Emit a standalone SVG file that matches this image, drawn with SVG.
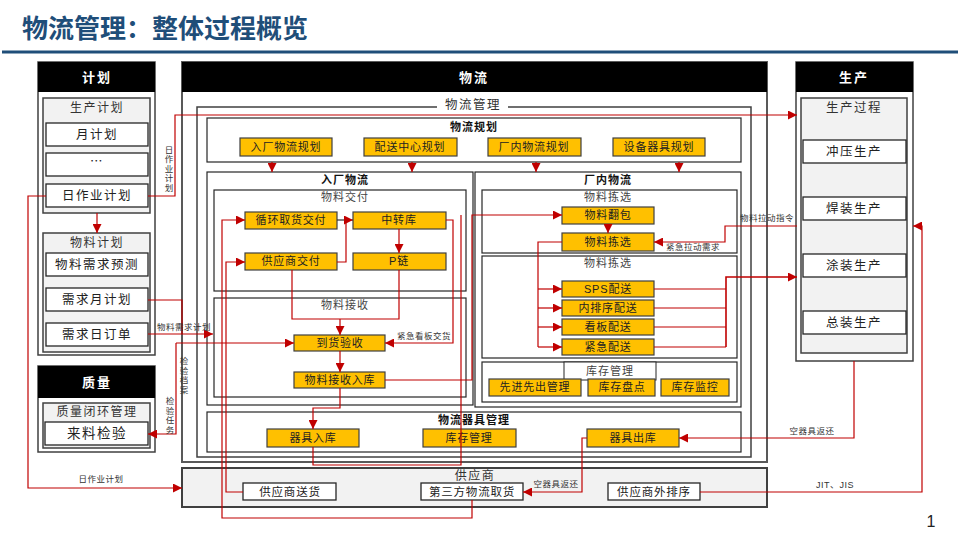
<svg xmlns="http://www.w3.org/2000/svg" width="960" height="540" viewBox="0 0 960 540">
<defs>
<marker id="ar" viewBox="0 0 10 10" refX="10" refY="5" markerWidth="9" markerHeight="9" markerUnits="userSpaceOnUse" orient="auto"><path d="M0,0 L10,5 L0,10 z" fill="#C00000"/></marker>
<style>
text{font-family:"Noto Sans CJK SC","Noto Sans",sans-serif;text-anchor:middle}
.panel{fill:#fff;stroke:#404040;stroke-width:1.5}
.frame{fill:#fff;stroke:#595959;stroke-width:2}
.hdr{fill:#000}
.ht{fill:#fff;font-size:13px;font-weight:bold;letter-spacing:2px}
.grp{fill:#f2f2f2;stroke:#404040;stroke-width:1.5}
.wb{fill:#fff;stroke:#262626;stroke-width:1.3}
.gold{fill:#FFC000;stroke:#404040;stroke-width:1.2}
.sec{fill:none;stroke:#262626;stroke-width:1.2}
.gt{font-size:12px;fill:#333;letter-spacing:1.5px}
.lt{font-size:12.5px;fill:#222;letter-spacing:1.5px}
.bt{font-size:11px;fill:#222;letter-spacing:0.8px}
.st{font-size:11px;fill:#444;letter-spacing:1px}
.tb{font-size:11px;font-weight:bold;fill:#111;letter-spacing:1px}
.lab{font-size:8.5px;fill:#333;letter-spacing:0.5px}
.vlab{font-size:8.5px;fill:#333;letter-spacing:1px;writing-mode:vertical-rl}
.red{fill:none;stroke:#C00000;stroke-width:1.2}
.ra{fill:none;stroke:#C00000;stroke-width:1.2;marker-end:url(#ar)}
</style>
</defs>
<rect width="960" height="540" fill="#fff"/>
<g id="title">
<text x="22" y="38" style="text-anchor:start;font-size:26px;font-weight:bold;fill:#1F4E79">物流管理：整体过程概览</text>
<line x1="2" y1="52" x2="958" y2="52" stroke="#1F4E79" stroke-width="3"/>
</g>

<g id="plan">
<rect class="panel" x="38" y="62" width="117" height="293"/>
<rect class="hdr" x="38" y="62" width="117" height="30"/>
<text class="ht" x="97" y="82">计划</text>
<g id="prodplan">
<rect class="grp" x="43" y="98" width="107" height="115"/>
<text class="gt" x="97" y="112">生产计划</text>
</g>
<g id="month"><rect class="wb" x="46" y="123" width="102" height="23"/><text class="lt" x="97" y="139">月计划</text></g>
<g id="dots"><rect class="wb" x="46" y="153" width="102" height="23"/><text class="lt" x="97" y="166">…</text></g>
<g id="daily"><rect class="wb" x="46" y="184" width="102" height="23"/><text class="lt" x="97" y="200">日作业计划</text></g>
<g id="matplan">
<rect class="grp" x="43" y="233" width="107" height="119"/>
<text class="gt" x="97" y="247">物料计划</text>
</g>
<g id="forecast"><rect class="wb" x="46" y="253" width="102" height="23"/><text class="lt" x="97" y="269">物料需求预测</text></g>
<g id="monthreq"><rect class="wb" x="46" y="288" width="102" height="23"/><text class="lt" x="97" y="304">需求月计划</text></g>
<g id="dayorder"><rect class="wb" x="46" y="323" width="102" height="23"/><text class="lt" x="97" y="339">需求日订单</text></g>
</g>

<g id="quality">
<rect class="panel" x="38" y="366" width="117" height="86"/>
<rect class="hdr" x="38" y="366" width="117" height="32"/>
<text class="ht" x="97" y="387">质量</text>
<rect class="grp" x="43" y="403" width="107" height="45"/>
<text class="gt" x="97" y="416">质量闭环管理</text>
<g id="inspect"><rect class="wb" x="45" y="422" width="103" height="23"/><text class="lt" x="97" y="438" style="font-size:13.5px">来料检验</text></g>
</g>

<g id="logistics">
<rect class="frame" x="182" y="62" width="585" height="400"/>
<rect class="hdr" x="182" y="62" width="585" height="30"/>
<text class="ht" x="474" y="82">物流</text>
<path d="M437,107 H197 V457 H751 V107 H508" fill="none" stroke="#404040" stroke-width="1.5"/>
<text class="gt" x="473" y="109" style="font-size:12.5px">物流管理</text>
</g>

<g id="lplan">
<rect class="sec" x="207" y="118" width="534" height="44"/>
<text class="tb" x="474" y="131">物流规划</text>
<g id="p1"><rect class="gold" x="240" y="138" width="92" height="18"/><text class="bt" x="286" y="151">入厂物流规划</text></g>
<g id="p2"><rect class="gold" x="364" y="138" width="93" height="18"/><text class="bt" x="410" y="151">配送中心规划</text></g>
<g id="p3"><rect class="gold" x="488" y="138" width="93" height="18"/><text class="bt" x="534" y="151">厂内物流规划</text></g>
<g id="p4"><rect class="gold" x="613" y="138" width="92" height="18"/><text class="bt" x="659" y="151">设备器具规划</text></g>
</g>

<g id="inbound">
<rect class="sec" x="207" y="172" width="266" height="233"/>
<text class="tb" x="345" y="184">入厂物流</text>
<rect class="sec" x="214" y="190" width="252" height="101"/>
<text class="st" x="345" y="201">物料交付</text>
<rect class="sec" x="214" y="298" width="252" height="99"/>
<text class="st" x="345" y="309">物料接收</text>
</g>
<g id="milkrun"><rect class="gold" x="245" y="212" width="92" height="17"/><text class="bt" x="291" y="224">循环取货交付</text></g>
<g id="hub"><rect class="gold" x="353" y="212" width="93" height="17"/><text class="bt" x="399" y="224">中转库</text></g>
<g id="suppdel"><rect class="gold" x="245" y="253" width="92" height="17"/><text class="bt" x="291" y="265">供应商交付</text></g>
<g id="pchain"><rect class="gold" x="353" y="253" width="93" height="17"/><text class="bt" x="399" y="265" style="font-family:'Liberation Sans','Noto Sans CJK SC',sans-serif">P链</text></g>
<g id="arrival"><rect class="gold" x="294" y="335" width="91" height="16"/><text class="bt" x="340" y="347">到货验收</text></g>
<g id="store"><rect class="gold" x="294" y="372" width="91" height="16"/><text class="bt" x="340" y="384">物料接收入库</text></g>

<g id="inplant">
<rect class="sec" x="475" y="172" width="266" height="235"/>
<text class="tb" x="608" y="184">厂内物流</text>
<rect class="sec" x="482" y="190" width="255" height="63"/>
<text class="st" x="608" y="201">物料拣选</text>
<rect class="sec" x="482" y="256" width="255" height="102"/>
<text class="st" x="608" y="267">物料拣选</text>
<rect class="sec" x="482" y="362" width="255" height="40"/>
<rect class="wb" x="564" y="362" width="92" height="18" style="stroke-width:1"/>
<text class="st" x="610" y="375">库存管理</text>
</g>
<g id="repack"><rect class="gold" x="562" y="207" width="92" height="17"/><text class="bt" x="608" y="219">物料翻包</text></g>
<g id="pick"><rect class="gold" x="562" y="233" width="92" height="18"/><text class="bt" x="608" y="246">物料拣选</text></g>
<g id="sps"><rect class="gold" x="562" y="281" width="92" height="16"/><text class="bt" x="608" y="293" style="font-family:'Liberation Sans','Noto Sans CJK SC',sans-serif">SPS配送</text></g>
<g id="seq"><rect class="gold" x="562" y="300" width="92" height="16"/><text class="bt" x="608" y="312">内排序配送</text></g>
<g id="kanban"><rect class="gold" x="562" y="319" width="92" height="16"/><text class="bt" x="608" y="331">看板配送</text></g>
<g id="urgent"><rect class="gold" x="562" y="339" width="92" height="16"/><text class="bt" x="608" y="351">紧急配送</text></g>
<g id="fifo"><rect class="gold" x="489" y="379" width="92" height="17"/><text class="bt" x="535" y="391">先进先出管理</text></g>
<g id="count"><rect class="gold" x="588" y="379" width="67" height="17"/><text class="bt" x="622" y="391">库存盘点</text></g>
<g id="monitor"><rect class="gold" x="661" y="379" width="68" height="17"/><text class="bt" x="695" y="391">库存监控</text></g>

<g id="container">
<rect class="sec" x="207" y="412" width="534" height="40"/>
<text class="tb" x="474" y="424">物流器具管理</text>
</g>
<g id="cin"><rect class="gold" x="267" y="429" width="92" height="18"/><text class="bt" x="313" y="442">器具入库</text></g>
<g id="cstock"><rect class="gold" x="423" y="429" width="93" height="18"/><text class="bt" x="469" y="442">库存管理</text></g>
<g id="cout"><rect class="gold" x="587" y="429" width="92" height="18"/><text class="bt" x="633" y="442">器具出库</text></g>

<g id="production">
<rect class="panel" x="796" y="62" width="117" height="299"/>
<rect class="hdr" x="796" y="62" width="117" height="30"/>
<text class="ht" x="854" y="82">生产</text>
<rect class="grp" x="801" y="98" width="106" height="255"/>
<text class="gt" x="854" y="112" style="font-size:12.5px">生产过程</text>
</g>
<g id="stamp"><rect class="wb" x="803" y="140" width="103" height="23"/><text class="lt" x="854" y="156">冲压生产</text></g>
<g id="weld"><rect class="wb" x="803" y="197" width="103" height="23"/><text class="lt" x="854" y="213">焊装生产</text></g>
<g id="paint"><rect class="wb" x="803" y="254" width="103" height="23"/><text class="lt" x="854" y="270">涂装生产</text></g>
<g id="assy"><rect class="wb" x="803" y="311" width="103" height="23"/><text class="lt" x="854" y="327">总装生产</text></g>

<g id="supplier">
<rect x="182" y="468" width="585" height="39" fill="#f2f2f2" stroke="#404040" stroke-width="2"/>
<text class="gt" x="475" y="480">供应商</text>
</g>
<g id="sdeliver"><rect class="wb" x="243" y="483" width="93" height="17"/><text class="bt" x="290" y="496" style="font-size:11.5px">供应商送货</text></g>
<g id="tpl"><rect class="wb" x="421" y="483" width="102" height="17"/><text class="bt" x="472" y="496" style="font-size:11.5px">第三方物流取货</text></g>
<g id="sseq"><rect class="wb" x="608" y="483" width="92" height="17"/><text class="bt" x="654" y="496" style="font-size:11.5px">供应商外排序</text></g>

<g id="connectors">
<path class="ra" d="M97,213 V233"/>
<path class="ra" d="M148,196 H175 V115 H797"/>
<path class="ra" d="M46,196 H28 V488 H182"/>
<path class="red" d="M148,300 H182 V334"/>
<path class="ra" d="M148,334 H213"/>
<path class="ra" d="M176,343 H294"/>
<path class="ra" d="M176,343 V434 H148"/>
<path class="ra" d="M272,162 V172"/>
<path class="ra" d="M412,162 V172"/>
<path class="ra" d="M536,162 V172"/>
<path class="ra" d="M679,162 V172"/>
<path class="ra" d="M472,500 V518 H222 V220 H245"/>
<path class="ra" d="M243,492 H226 V262 H245"/>
<path d="M337,220 H353" fill="none" stroke="#333" stroke-width="1.2" marker-end="url(#ar)"/>
<path class="red" d="M337,262 H346 V220 H350"/>
<path class="ra" d="M399,229 V253"/>
<path class="red" d="M292,270 V319 H399 V270"/>
<path class="ra" d="M340,319 V335"/>
<path class="ra" d="M340,351 V372"/>
<path class="ra" d="M446,220 H453 V343 H385"/>
<path class="ra" d="M385,380 H472 V215 H562"/>
<path class="ra" d="M340,388 V408 H313 V429"/>
<path class="red" d="M313,447 V465 H461 V215"/>
<path class="ra" d="M608,224 V233"/>
<path class="red" d="M562,242 H538 V347"/>
<path class="ra" d="M538,289 H562"/>
<path class="ra" d="M538,308 H562"/>
<path class="ra" d="M538,327 H562"/>
<path class="ra" d="M538,347 H562"/>
<path class="red" d="M654,289 H726 M654,308 H726 M654,327 H726 M654,347 H726"/>
<path class="ra" d="M726,347 V277 H797" style="stroke-width:1.6"/>
<path class="ra" d="M797,226 H725 V242 H654"/>
<path class="ra" d="M854,361 V438 H679"/>
<path class="ra" d="M587,438 H582 V492 H523"/>
<path class="ra" d="M700,492 H922 V226 H913"/>
</g>

<g id="labels">
<text class="vlab" x="169" y="169">日作业计划</text>
<text class="lab" x="101" y="482">日作业计划</text>
<text class="lab" x="184" y="330">物料需求计划</text>
<text class="vlab" x="184" y="376">检验档案</text>
<text class="vlab" x="170" y="416">检验任务</text>
<text class="lab" x="424" y="339">紧急看板交货</text>
<text class="lab" x="767" y="221">物料拉动指令</text>
<text class="lab" x="693" y="250">紧急拉动需求</text>
<text class="lab" x="812" y="434">空器具返还</text>
<text class="lab" x="556" y="487">空器具返还</text>
<text class="lab" x="835" y="488" style="font-family:'Liberation Sans','Noto Sans CJK SC',sans-serif;font-size:9px">JIT、JIS</text>
</g>
<text x="931" y="527" style="font-family:'Liberation Sans',sans-serif;font-size:16px;fill:#222">1</text>
</svg>
